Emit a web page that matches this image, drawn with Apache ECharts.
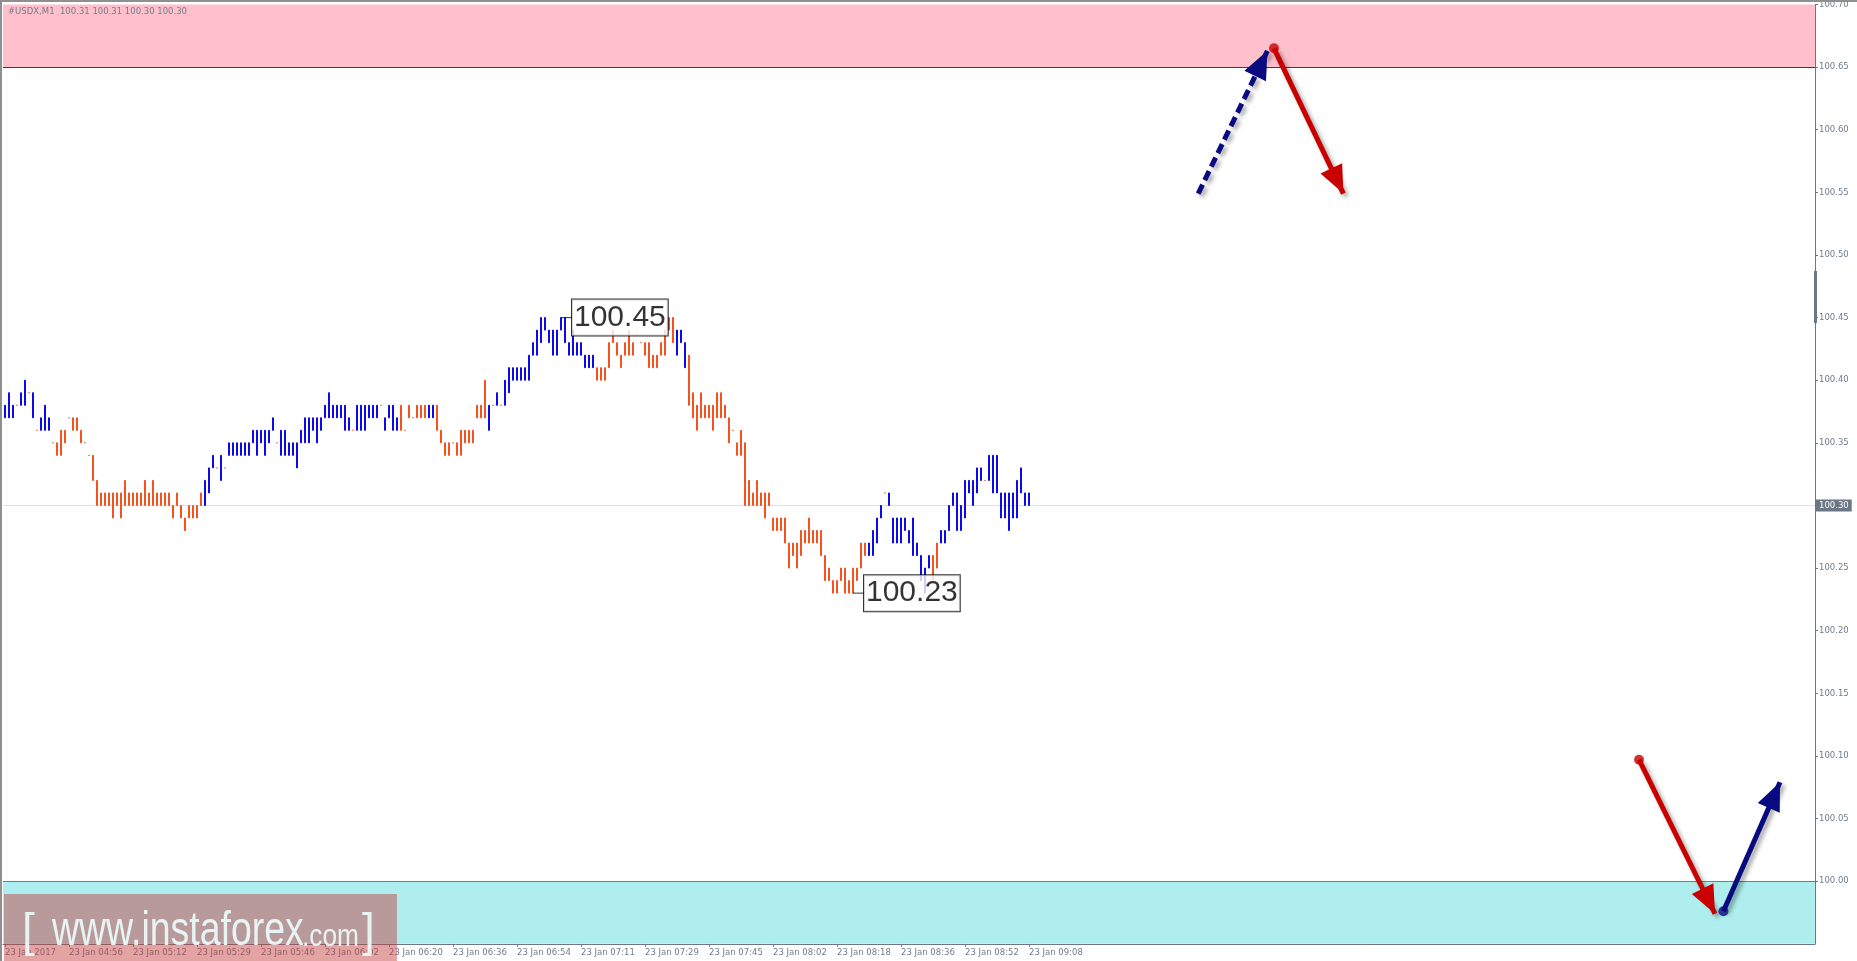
<!DOCTYPE html>
<html>
<head>
<meta charset="utf-8">
<script src="https://cdn.jsdelivr.net/npm/echarts@6/dist/echarts.min.js"></script>
<style>
html,body{margin:0;padding:0;background:#fff;}
#chart{width:1857px;height:961px;}
</style>
</head>
<body>
<div id="chart"></div>
<script>
// ---------------- data ----------------
const TITLE = '#USDX,M1  100.31 100.31 100.30 100.30';

const TIME_LABELS = ['23 Jan 2017','23 Jan 04:56','23 Jan 05:12','23 Jan 05:29','23 Jan 05:46','23 Jan 06:02',
  '23 Jan 06:20','23 Jan 06:36','23 Jan 06:54','23 Jan 07:11','23 Jan 07:29','23 Jan 07:45','23 Jan 08:02',
  '23 Jan 08:18','23 Jan 08:36','23 Jan 08:52','23 Jan 09:08'];
const BARS_PER_LABEL = 16;

const OPEN = [
100.37,100.37,100.37,100.38,100.38,100.38,100.39,100.37,100.36,100.36,100.36,100.36,100.35,100.35,100.36,100.36,
100.37,100.37,100.37,100.36,100.35,100.34,100.34,100.32,100.31,100.31,100.31,100.31,100.31,100.31,100.32,100.31,
100.31,100.31,100.31,100.32,100.31,100.32,100.31,100.31,100.31,100.31,100.30,100.31,100.30,100.29,100.30,100.30,
100.30,100.31,100.30,100.31,100.33,100.33,100.32,100.33,100.34,100.34,100.34,100.34,100.34,100.34,100.35,100.34,
100.35,100.34,100.35,100.36,100.35,100.34,100.34,100.34,100.34,100.33,100.35,100.35,100.35,100.36,100.35,100.36,
100.37,100.37,100.37,100.37,100.37,100.36,100.36,100.36,100.36,100.36,100.36,100.37,100.37,100.37,100.38,100.36,
100.37,100.36,100.36,100.38,100.36,100.38,100.37,100.38,100.38,100.38,100.37,100.37,100.38,100.36,100.35,100.35,
100.35,100.35,100.36,100.36,100.36,100.36,100.38,100.38,100.40,100.36,100.38,100.38,100.38,100.38,100.39,100.40,
100.40,100.40,100.40,100.40,100.42,100.42,100.43,100.44,100.43,100.42,100.42,100.44,100.43,100.42,100.42,100.42,
100.42,100.41,100.41,100.41,100.41,100.41,100.41,100.43,100.44,100.43,100.42,100.43,100.44,100.43,100.44,100.43,
100.43,100.43,100.42,100.42,100.43,100.44,100.45,100.45,100.42,100.43,100.41,100.42,100.39,100.38,100.39,100.38,
100.38,100.38,100.39,100.39,100.38,100.37,100.36,100.35,100.36,100.35,100.32,100.31,100.32,100.31,100.31,100.31,
100.29,100.29,100.29,100.29,100.27,100.27,100.27,100.28,100.28,100.29,100.28,100.28,100.28,100.26,100.25,100.24,
100.24,100.25,100.25,100.24,100.25,100.25,100.27,100.27,100.26,100.26,100.27,100.29,100.31,100.30,100.27,100.27,
100.27,100.28,100.27,100.26,100.26,100.24,100.23,100.25,100.26,100.27,100.27,100.27,100.28,100.30,100.28,100.28,
100.29,100.31,100.30,100.31,100.32,100.32,100.32,100.31,100.31,100.29,100.29,100.28,100.29,100.29,100.31,100.30,
100.30];

const CLOSE = [
100.38,100.39,100.38,100.38,100.39,100.40,100.39,100.39,100.36,100.37,100.38,100.37,100.35,100.34,100.34,100.35,
100.37,100.36,100.36,100.35,100.35,100.34,100.32,100.30,100.30,100.30,100.30,100.29,100.30,100.29,100.30,100.30,
100.30,100.30,100.30,100.30,100.30,100.30,100.30,100.30,100.30,100.30,100.29,100.30,100.29,100.28,100.29,100.29,
100.29,100.30,100.32,100.33,100.34,100.33,100.34,100.33,100.35,100.35,100.35,100.35,100.35,100.35,100.36,100.36,
100.36,100.36,100.36,100.37,100.35,100.36,100.36,100.35,100.35,100.35,100.36,100.37,100.37,100.37,100.37,100.37,
100.38,100.39,100.38,100.38,100.38,100.38,100.37,100.36,100.38,100.38,100.38,100.38,100.38,100.38,100.38,100.37,
100.38,100.38,100.37,100.36,100.36,100.37,100.37,100.37,100.37,100.37,100.38,100.38,100.36,100.35,100.34,100.34,
100.35,100.34,100.34,100.35,100.35,100.35,100.37,100.37,100.37,100.38,100.38,100.39,100.38,100.40,100.41,100.41,
100.41,100.41,100.41,100.42,100.43,100.44,100.45,100.45,100.44,100.44,100.44,100.45,100.45,100.43,100.44,100.43,
100.43,100.42,100.42,100.42,100.40,100.40,100.40,100.41,100.43,100.42,100.41,100.42,100.42,100.42,100.44,100.43,
100.42,100.41,100.41,100.41,100.42,100.42,100.44,100.43,100.44,100.44,100.43,100.38,100.37,100.36,100.37,100.37,
100.37,100.36,100.37,100.37,100.37,100.35,100.36,100.34,100.34,100.30,100.30,100.30,100.30,100.30,100.29,100.30,
100.28,100.28,100.28,100.27,100.25,100.26,100.25,100.26,100.27,100.27,100.27,100.27,100.26,100.24,100.24,100.23,
100.23,100.24,100.23,100.23,100.23,100.24,100.25,100.26,100.27,100.28,100.29,100.30,100.31,100.31,100.29,100.29,
100.29,100.29,100.28,100.29,100.27,100.26,100.25,100.26,100.24,100.25,100.28,100.28,100.30,100.31,100.31,100.30,
100.32,100.32,100.32,100.33,100.33,100.32,100.34,100.34,100.34,100.31,100.31,100.31,100.31,100.32,100.33,100.31,
100.31];

// price scale
const Y_MIN = 99.95, Y_MAX = 100.70, Y_STEP = 0.05;
// number of bar slots across the chart width (bars + empty space on the right)
const SLOTS = 453;

const LAST_PRICE = 100.30;
const RESIST_ZONE = [100.65, Y_MAX];
const SUPPORT_ZONE = [Y_MIN, 100.00];

// forecast arrows: [bar slot, price]
const ARROW_FROM = [[298.3, 100.549], [317.25, 100.665], [408.5, 100.097], [429.6, 99.976]];
const ARROW_TO   = [[315.6, 100.663], [334.6, 100.549], [427.5, 99.974], [443.75, 100.079]];

// price labels: [bar slot, price]
const LABEL_AT = [[139, 100.45], [212, 100.23]];
const LABEL_TEXT = ['100.45', '100.23'];

// ---------------- styles ----------------
const BLUE = '#0a0aea', ORANGE = '#f4531e';
const AXIS_COLOR = '#6b7785', TEXT_COLOR = '#6f7d8c';
const FONT = '"DejaVu Sans", Tahoma, sans-serif';
const ARROW_COLORS = ['#0a0a80', '#c80000', '#c80000', '#0a0a80'];
const ARROW_DASHED = [true, false, false, false];

const candles = OPEN.map((o, i) => [o, CLOSE[i], Math.min(o, CLOSE[i]), Math.max(o, CLOSE[i])]);
const categories = Array.from({length: SLOTS}, (_, i) => String(i));
const showTick = (idx) => idx % BARS_PER_LABEL === 0 && idx / BARS_PER_LABEL < TIME_LABELS.length;

const chart = echarts.init(document.getElementById('chart'), null, {renderer: 'canvas'});

const option = {
  animation: false,
  backgroundColor: '#ffffff',
  title: {
    text: TITLE, left: 3, top: 2,
    textStyle: {fontSize: 8.5, fontWeight: 'normal', color: TEXT_COLOR, fontFamily: FONT}
  },
  grid: {left: 3, top: 1.8, width: 1812, height: 942, containLabel: false},
  xAxis: [{
    type: 'category', data: categories, boundaryGap: true, position: 'bottom',
    axisLine: {show: true, onZero: false, lineStyle: {color: AXIS_COLOR, width: 1}},
    axisTick: {show: true, alignWithLabel: true, length: 3, interval: showTick, lineStyle: {color: AXIS_COLOR}},
    axisLabel: {
      show: true, interval: showTick, align: 'left', margin: 4,
      fontSize: 8.5, color: TEXT_COLOR, fontFamily: FONT,
      formatter: (v, idx) => TIME_LABELS[idx / BARS_PER_LABEL] || ''
    },
    splitLine: {show: false}
  }, {
    type: 'value', min: -0.5, max: SLOTS - 0.5, show: false,
    axisLine: {onZero: false}
  }],
  yAxis: [{
    type: 'value', position: 'right', min: Y_MIN, max: Y_MAX, interval: Y_STEP,
    axisLine: {show: true, onZero: false, lineStyle: {color: AXIS_COLOR, width: 1}},
    axisTick: {show: true, length: 3, lineStyle: {color: AXIS_COLOR}},
    axisLabel: {
      show: true, margin: 4, fontSize: 8.5, color: TEXT_COLOR, fontFamily: FONT,
      showMinLabel: false, showMaxLabel: true,
      formatter: (v) => {
        const k = v / Y_STEP;
        return (Math.abs(k - Math.round(k)) < 1e-6 && v > Y_MIN + 1e-6) ? v.toFixed(2) : '';
      }
    },
    splitLine: {show: false}
  }],
  series: [{
    type: 'candlestick', name: 'USDX',
    xAxisIndex: 0, yAxisIndex: 0, z: 3,
    data: candles, barWidth: 2,
    itemStyle: {
      color: BLUE, color0: ORANGE, borderColor: BLUE, borderColor0: ORANGE,
      borderColorDoji: ORANGE, borderWidth: 1
    },
    emphasis: {disabled: true},
    markArea: {
      silent: true, z: 1,
      data: [
        [{yAxis: RESIST_ZONE[0], itemStyle: {color: '#ffc0cb'}}, {yAxis: RESIST_ZONE[1]}],
        [{yAxis: SUPPORT_ZONE[0], itemStyle: {color: '#afeeee'}}, {yAxis: SUPPORT_ZONE[1]}]
      ]
    },
    markLine: {
      silent: true, symbol: 'none', z: 2, animation: false,
      data: [
        {yAxis: RESIST_ZONE[0], lineStyle: {color: '#d00000', width: 1, type: 'solid'}, label: {show: false}},
        {yAxis: SUPPORT_ZONE[1], lineStyle: {color: '#4f7fd9', width: 1, type: 'solid'}, label: {show: false}},
        {yAxis: LAST_PRICE, lineStyle: {color: '#dedeee', width: 1, type: 'solid'},
          label: {show: true, position: 'end', distance: 1, formatter: LAST_PRICE.toFixed(2),
            color: '#ffffff', backgroundColor: '#6b7785', padding: [2, 3, 1, 3],
            fontSize: 8.5, fontFamily: FONT}}
      ]
    }
  }, {
    type: 'scatter', name: 'arrows', xAxisIndex: 1, yAxisIndex: 0, z: 10,
    symbol: 'circle',
    data: ARROW_FROM.map((p, i) => ({
      value: p, symbolSize: ARROW_DASHED[i] ? 0 : 10,
      itemStyle: {color: ARROW_COLORS[i]}
    })),
    emphasis: {disabled: true},
    silent: true,
    markLine: {
      silent: true, z: 9, animation: false,
      label: {show: false},
      data: ARROW_FROM.map((p, i) => [
        {coord: p, symbol: 'none',
          lineStyle: {color: ARROW_COLORS[i], width: 5,
            type: ARROW_DASHED[i] ? [10, 5] : 'solid',
            shadowBlur: 4, shadowColor: 'rgba(0,0,0,0.35)', shadowOffsetX: 3, shadowOffsetY: 3}},
        {coord: ARROW_TO[i], symbol: 'triangle', symbolSize: [24, 28], symbolOffset: [0, '50%']}
      ])
    }
  }, {
    type: 'scatter', name: 'labels', xAxisIndex: 1, yAxisIndex: 0, z: 12,
    data: LABEL_AT, symbol: 'rect', symbolSize: [11, 1], symbolOffset: [5.5, 0],
    itemStyle: {color: '#000'},
    silent: true, emphasis: {disabled: true},
    label: {
      show: true, position: 'right', distance: 0,
      formatter: (p) => LABEL_TEXT[p.dataIndex],
      fontFamily: '"Liberation Sans", Arial, sans-serif', fontSize: 30, lineHeight: 32,
      color: '#000', backgroundColor: '#ffffff', borderColor: '#000', borderWidth: 1,
      padding: [3, 2, 1, 2]
    }
  }],
  graphic: [
    // chart frame
    {type: 'rect', z: 50, silent: true, shape: {x: 0, y: 0, width: 1857, height: 2}, style: {fill: '#8f8f8f'}},
    {type: 'rect', z: 50, silent: true, shape: {x: 0, y: 0, width: 2, height: 961}, style: {fill: '#8f8f8f'}},
    // scroll marker on the price scale
    {type: 'rect', z: 50, silent: true, shape: {x: 1814, y: 271, width: 3, height: 52}, style: {fill: '#6b7785'}},
    // watermark
    {type: 'rect', z: 100, silent: true, shape: {x: 4, y: 894, width: 393, height: 67}, style: {fill: 'rgba(195,60,60,0.47)'}},
    {type: 'text', z: 101, silent: true, x: 22, y: 933,
      style: {text: '[', fill: '#e8f4f4', font: '46px "Liberation Sans", Arial, sans-serif', verticalAlign: 'middle'}},
    {type: 'text', z: 101, silent: true, x: 52, y: 932, scaleX: 0.78,
      style: {text: 'www.instaforex', fill: '#e8f4f4', font: '48px "Liberation Sans", Arial, sans-serif', verticalAlign: 'middle'}},
    {type: 'text', z: 101, silent: true, x: 302, y: 937, scaleX: 0.82,
      style: {text: '.com', fill: '#e8f4f4', font: '32px "Liberation Sans", Arial, sans-serif', verticalAlign: 'middle'}},
    {type: 'text', z: 101, silent: true, x: 362, y: 933,
      style: {text: ']', fill: '#e8f4f4', font: '46px "Liberation Sans", Arial, sans-serif', verticalAlign: 'middle'}}
  ]
};

chart.setOption(option);
</script>
</body>
</html>
